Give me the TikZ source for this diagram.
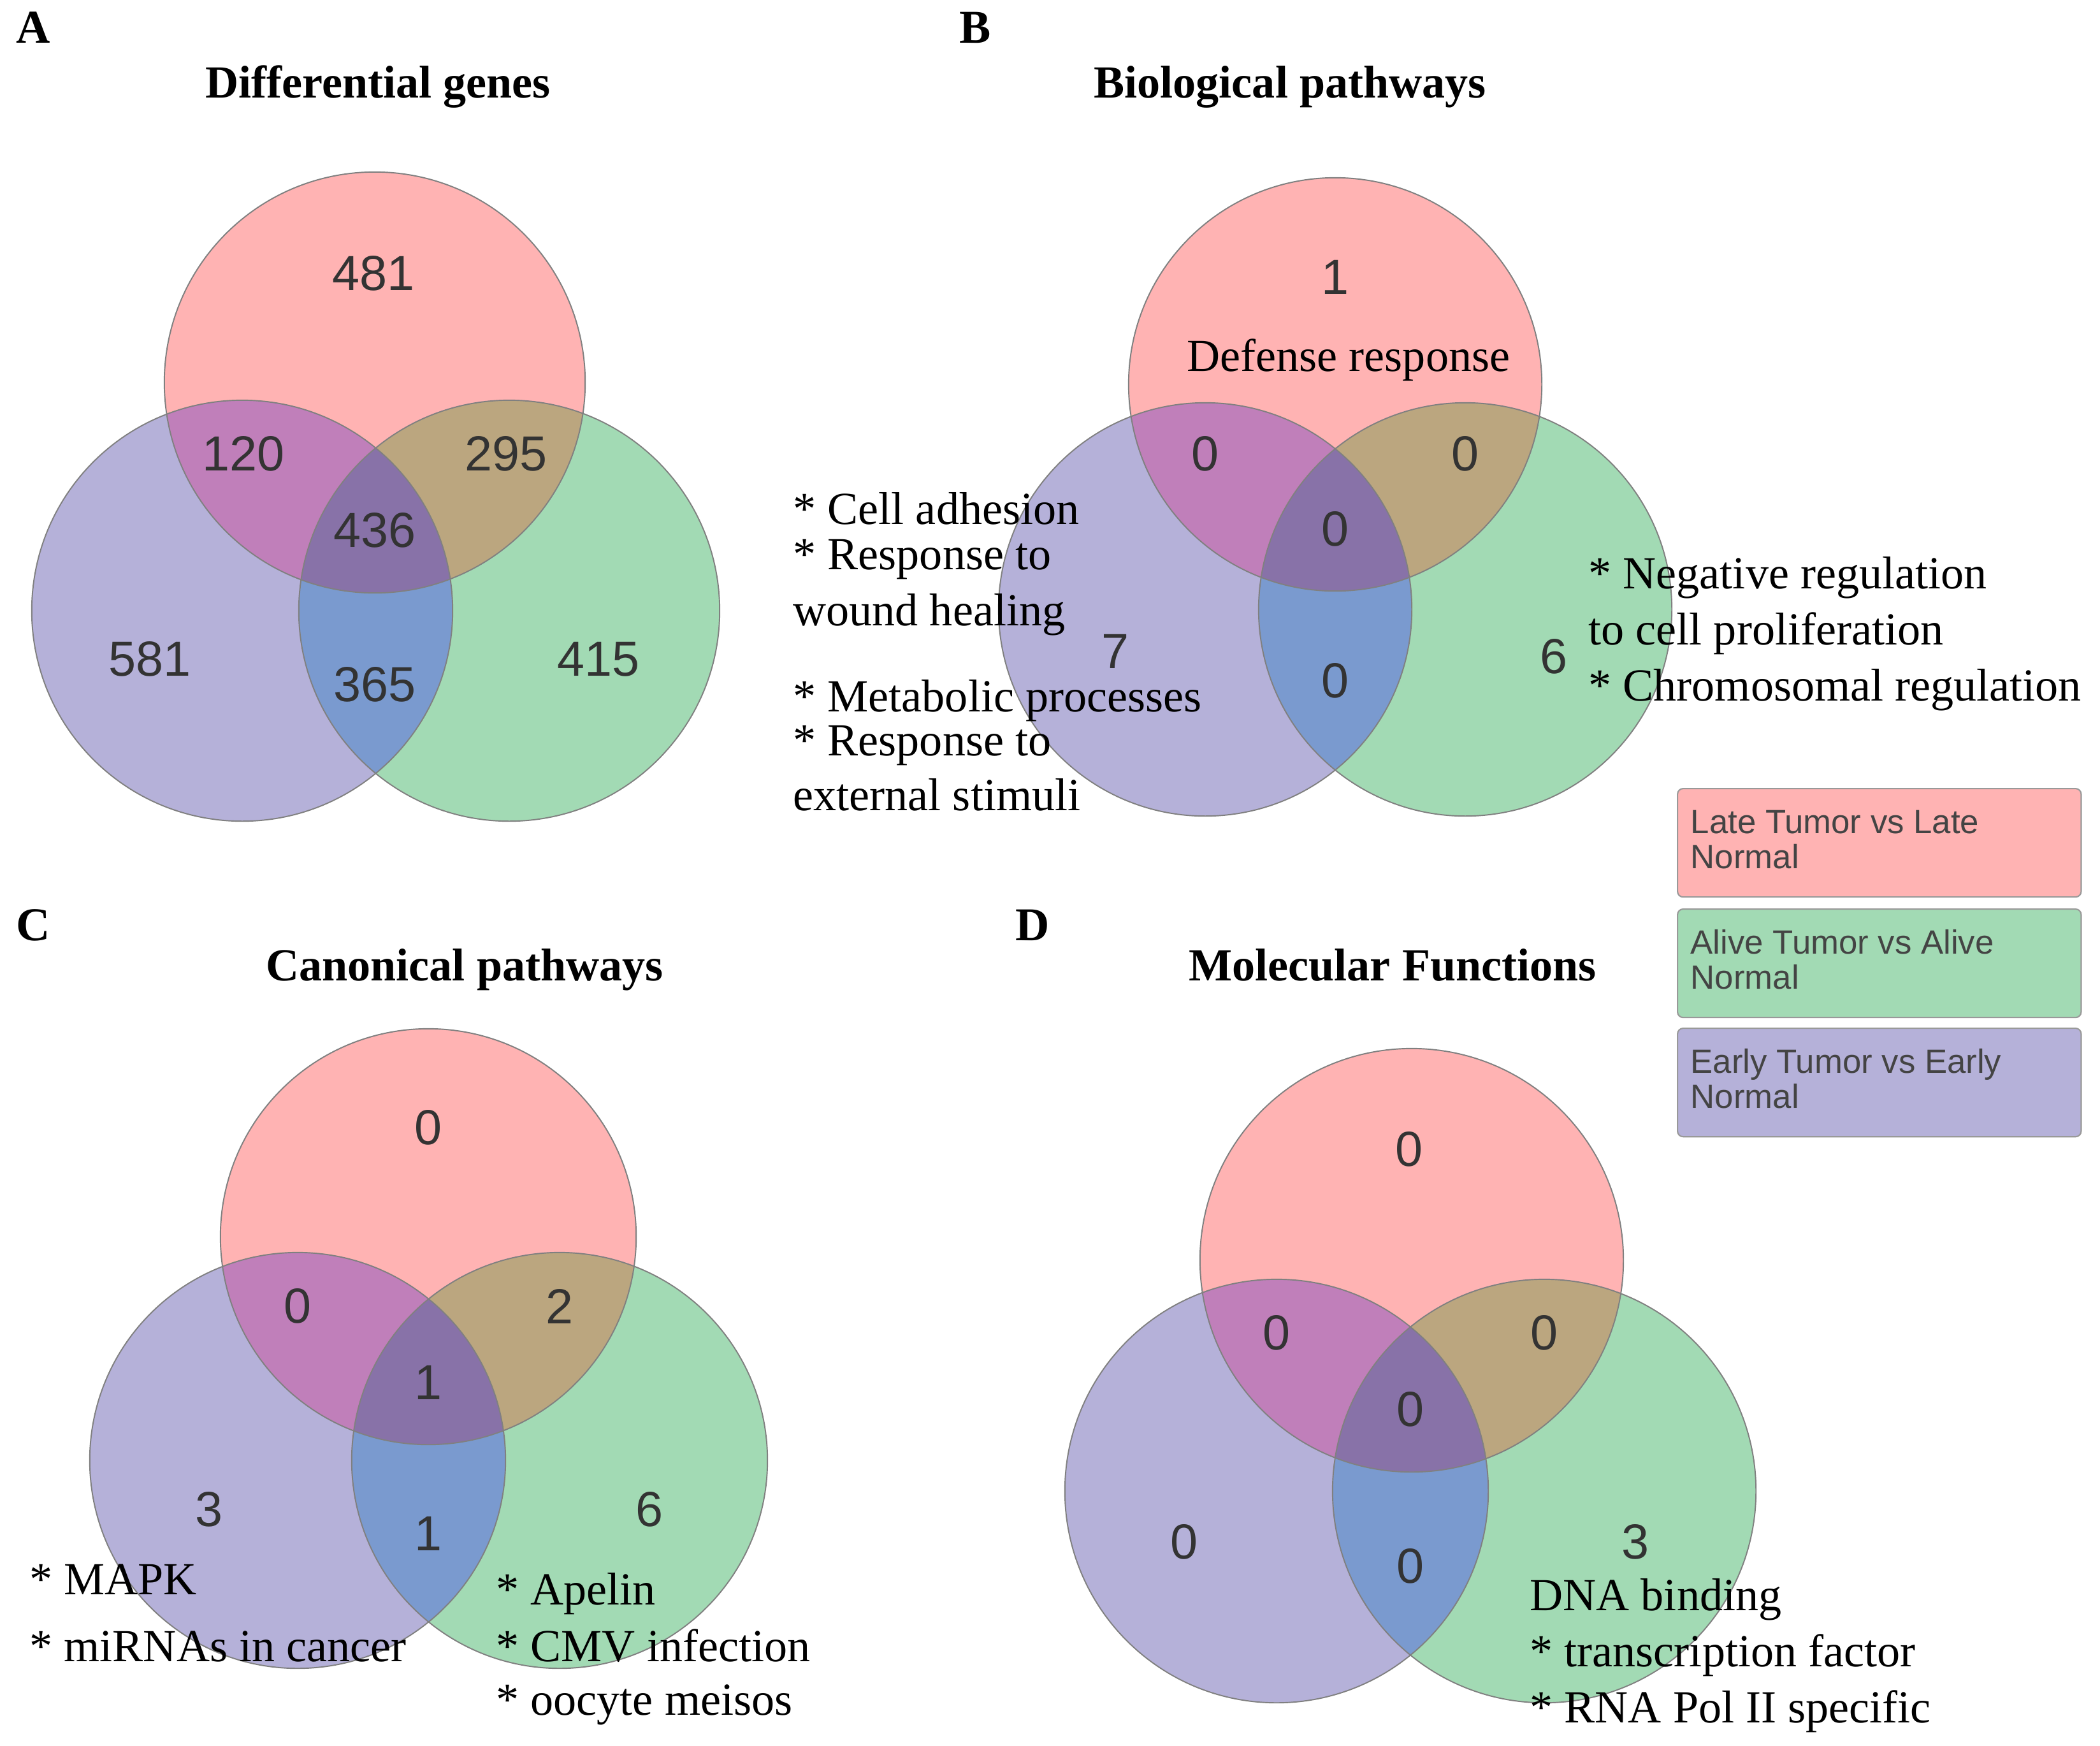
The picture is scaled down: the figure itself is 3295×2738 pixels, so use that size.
\documentclass[tikz,border=0pt]{standalone}
\usepackage{fontspec}
\setmainfont{Liberation Serif}
\newfontfamily\numfont{Liberation Sans}
\definecolor{redc}{HTML}{FFB3B3}
\definecolor{grnc}{HTML}{A2DAB4}
\definecolor{purc}{HTML}{B5B1D9}
\definecolor{rpc}{HTML}{C07FBA}
\definecolor{rgc}{HTML}{BBA67F}
\definecolor{pgc}{HTML}{7A9ACF}
\definecolor{allc}{HTML}{8872A8}
\definecolor{numgray}{HTML}{333333}
\definecolor{leggray}{HTML}{444444}
\newcommand\drawvenn[4]{%
  \fill[redc] (#1) circle (#4);
  \fill[purc] (#2) circle (#4);
  \fill[grnc] (#3) circle (#4);
  \begin{scope}\clip (#1) circle (#4); \fill[rpc] (#2) circle (#4); \fill[rgc] (#3) circle (#4);\end{scope}
  \begin{scope}\clip (#2) circle (#4); \fill[pgc] (#3) circle (#4);\end{scope}
  \begin{scope}\clip (#1) circle (#4); \clip (#2) circle (#4); \fill[allc] (#3) circle (#4);\end{scope}
  \draw[vedge] (#1) circle (#4);
  \draw[vedge] (#2) circle (#4);
  \draw[vedge] (#3) circle (#4);
}
\begin{document}
\begin{tikzpicture}[x=0.01cm,y=-0.01cm,
  vedge/.style={draw=black!50, line width=0.55pt},
  num/.style={font=\numfont\fontsize{22}{26}\selectfont, text=numgray, inner sep=0pt},
  ttl/.style={font=\bfseries\fontsize{20.5}{24}\selectfont, anchor=base, inner sep=0pt},
  panel/.style={font=\bfseries\fontsize{21}{24}\selectfont, anchor=base west, inner sep=0pt},
  note/.style={font=\fontsize{20.5}{24}\selectfont, anchor=base west, inner sep=0pt},
  legbox/.style={draw=black!40, line width=0.6pt, rounded corners=2.5pt, anchor=north west,
    minimum width=6.33cm, minimum height=1.70cm, inner sep=0pt},
  legtxt/.style={font=\numfont\fontsize{15}{18}\selectfont, text=leggray, anchor=base west, inner sep=0pt}]
\useasboundingbox (0,0) rectangle (3295,2738);
\fill[white] (0,0) rectangle (3295,2738);

% ---------- Panel A ----------
\coordinate (aR) at (588,600);
\coordinate (aP) at (380,958);
\coordinate (aG) at (799,958);
\drawvenn{aR}{aP}{aG}{3.30cm}
\node[panel] (labA) at (25,67) {A};
\node[ttl] (ttlA) at (593,153) {Differential genes};
\node[num] (a1) at (586,429) {481};
\node[num] (a2) at (382,712) {120};
\node[num] (a3) at (794,712) {295};
\node[num] (a4) at (588,832) {436};
\node[num] (a5) at (235,1034) {581};
\node[num] (a6) at (588,1074) {365};
\node[num] (a7) at (939,1034) {415};

% ---------- Panel B ----------
\coordinate (bR) at (2095,603);
\coordinate (bP) at (1891,956);
\coordinate (bG) at (2299,956);
\drawvenn{bR}{bP}{bG}{3.24cm}
\node[panel] (labB) at (1505,67) {B};
\node[ttl] (ttlB) at (2024,153) {Biological pathways};
\node[num] (b1) at (2095,435) {1};
\node[note] (bdef) at (1862,582) {Defense response};
\node[num] (b2) at (1891,712) {0};
\node[num] (b3) at (2299,712) {0};
\node[num] (b4) at (2095,830) {0};
\node[num] (b5) at (1750,1022) {7};
\node[num] (b6) at (2095,1068) {0};
\node[num] (b7) at (2438,1030) {6};
\node[note] (bl1) at (1244,822) {* Cell adhesion};
\node[note] (bl2) at (1244,893) {* Response to};
\node[note] (bl3) at (1244,981) {wound healing};
\node[note] (bl4) at (1244,1116) {* Metabolic processes};
\node[note] (bl5) at (1244,1185) {* Response to};
\node[note] (bl6) at (1244,1271) {external stimuli};
\node[note] (br1) at (2492,923) {* Negative regulation};
\node[note] (br2) at (2492,1011) {to cell proliferation};
\node[note] (br3) at (2492,1099) {* Chromosomal regulation};

% ---------- Legend ----------
\node[legbox, fill=redc] (lg1) at (2631,1236) {};
\node[legbox, fill=grnc] (lg2) at (2631,1425) {};
\node[legbox, fill=purc] (lg3) at (2631,1612) {};
\node[legtxt] (lt1a) at (2652,1307) {Late Tumor vs Late};
\node[legtxt] (lt1b) at (2652,1362) {Normal};
\node[legtxt] (lt2a) at (2652,1496) {Alive Tumor vs Alive};
\node[legtxt] (lt2b) at (2652,1551) {Normal};
\node[legtxt] (lt3a) at (2652,1683) {Early Tumor vs Early};
\node[legtxt] (lt3b) at (2652,1738) {Normal};

% ---------- Panel C ----------
\coordinate (cR) at (672,1940);
\coordinate (cP) at (467,2291);
\coordinate (cG) at (878,2291);
\drawvenn{cR}{cP}{cG}{3.26cm}
\node[panel] (labC) at (25,1475) {C};
\node[ttl] (ttlC) at (729,1538) {Canonical pathways};
\node[num] (c1) at (672,1769) {0};
\node[num] (c2) at (467,2049) {0};
\node[num] (c3) at (878,2049) {2};
\node[num] (c4) at (672,2169) {1};
\node[num] (c5) at (328,2368) {3};
\node[num] (c6) at (672,2406) {1};
\node[num] (c7) at (1019,2368) {6};
\node[note] (cl1) at (46,2501) {* MAPK};
\node[note] (cl2) at (46,2606) {* miRNAs in cancer};
\node[note] (cr1) at (778,2517) {* Apelin};
\node[note] (cr2) at (778,2606) {* CMV infection};
\node[note] (cr3) at (778,2690) {* oocyte meisos};

% ---------- Panel D ----------
\coordinate (dR) at (2215,1977);
\coordinate (dP) at (2003,2339);
\coordinate (dG) at (2423,2339);
\drawvenn{dR}{dP}{dG}{3.32cm}
\node[panel] (labD) at (1593,1475) {D};
\node[ttl] (ttlD) at (2185,1538) {Molecular Functions};
\node[num] (d1) at (2211,1803) {0};
\node[num] (d2) at (2003,2091) {0};
\node[num] (d3) at (2423,2091) {0};
\node[num] (d4) at (2213,2211) {0};
\node[num] (d5) at (1858,2419) {0};
\node[num] (d6) at (2213,2457) {0};
\node[num] (d7) at (2566,2419) {3};
\node[note] (dn1) at (2400,2526) {DNA binding};
\node[note] (dn2) at (2400,2614) {* transcription factor};
\node[note] (dn3) at (2400,2702) {* RNA Pol II specific};
\end{tikzpicture}
\end{document}
